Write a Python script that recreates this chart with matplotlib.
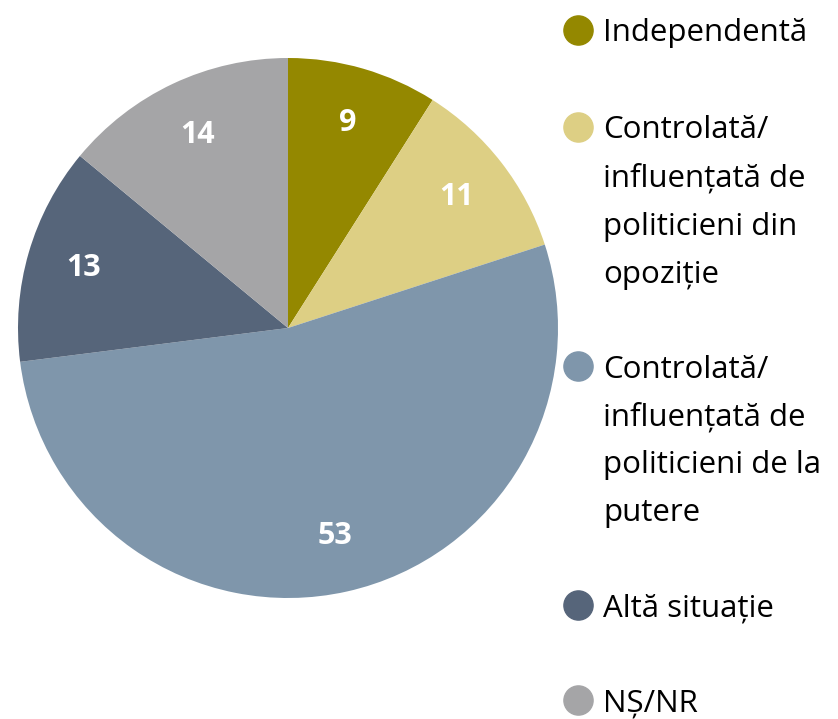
import matplotlib
matplotlib.use("Agg")
import matplotlib.pyplot as plt
from matplotlib.lines import Line2D

plt.rcParams["font.family"] = ["Open Sans", "DejaVu Sans"]

labels = [
    "Independentă",
    "Controlată/\ninfluențată de\npoliticieni din\nopoziție",
    "Controlată/\ninfluențată de\npoliticieni de la\nputere",
    "Altă situație",
    "NȘ/NR",
]
values = [9, 11, 53, 13, 14]
colors = ["#948800", "#DDCF84", "#7F96AB", "#56657A", "#A5A5A7"]

W, H = 838, 719
fig = plt.figure(figsize=(W / 100, H / 100), dpi=100)
ax = fig.add_axes([18 / W, (H - 598) / H, 540 / W, 540 / H])

wedges, texts = ax.pie(
    values,
    colors=colors,
    startangle=90,
    counterclock=False,
    labels=[str(v) for v in values],
    labeldistance=0.79,
    textprops=dict(color="white", fontsize=22, fontweight="bold"),
    wedgeprops=dict(linewidth=0),
)
for t in texts:
    t.set_horizontalalignment("center")
    t.set_verticalalignment("center")
ax.set_xlim(-1, 1)
ax.set_ylim(-1, 1)
ax.set_aspect("equal")
ax.axis("off")

# legend, laid out by hand: marker sits on the first line of each label
legend_tops = [30, 127, 366, 605, 700]
line_step = 48
for top, lab, col in zip(legend_tops, labels, colors):
    y = 1 - top / H
    fig.add_artist(Line2D([578 / W], [y], marker="o", markersize=21,
                          color=col, linestyle="none", transform=fig.transFigure))
    for i, line in enumerate(lab.split("\n")):
        fig.text(603 / W, 1 - (top + i * line_step) / H, line, fontsize=22.5,
                 color="black", ha="left", va="center_baseline")

fig.savefig("out.png", dpi=100)
